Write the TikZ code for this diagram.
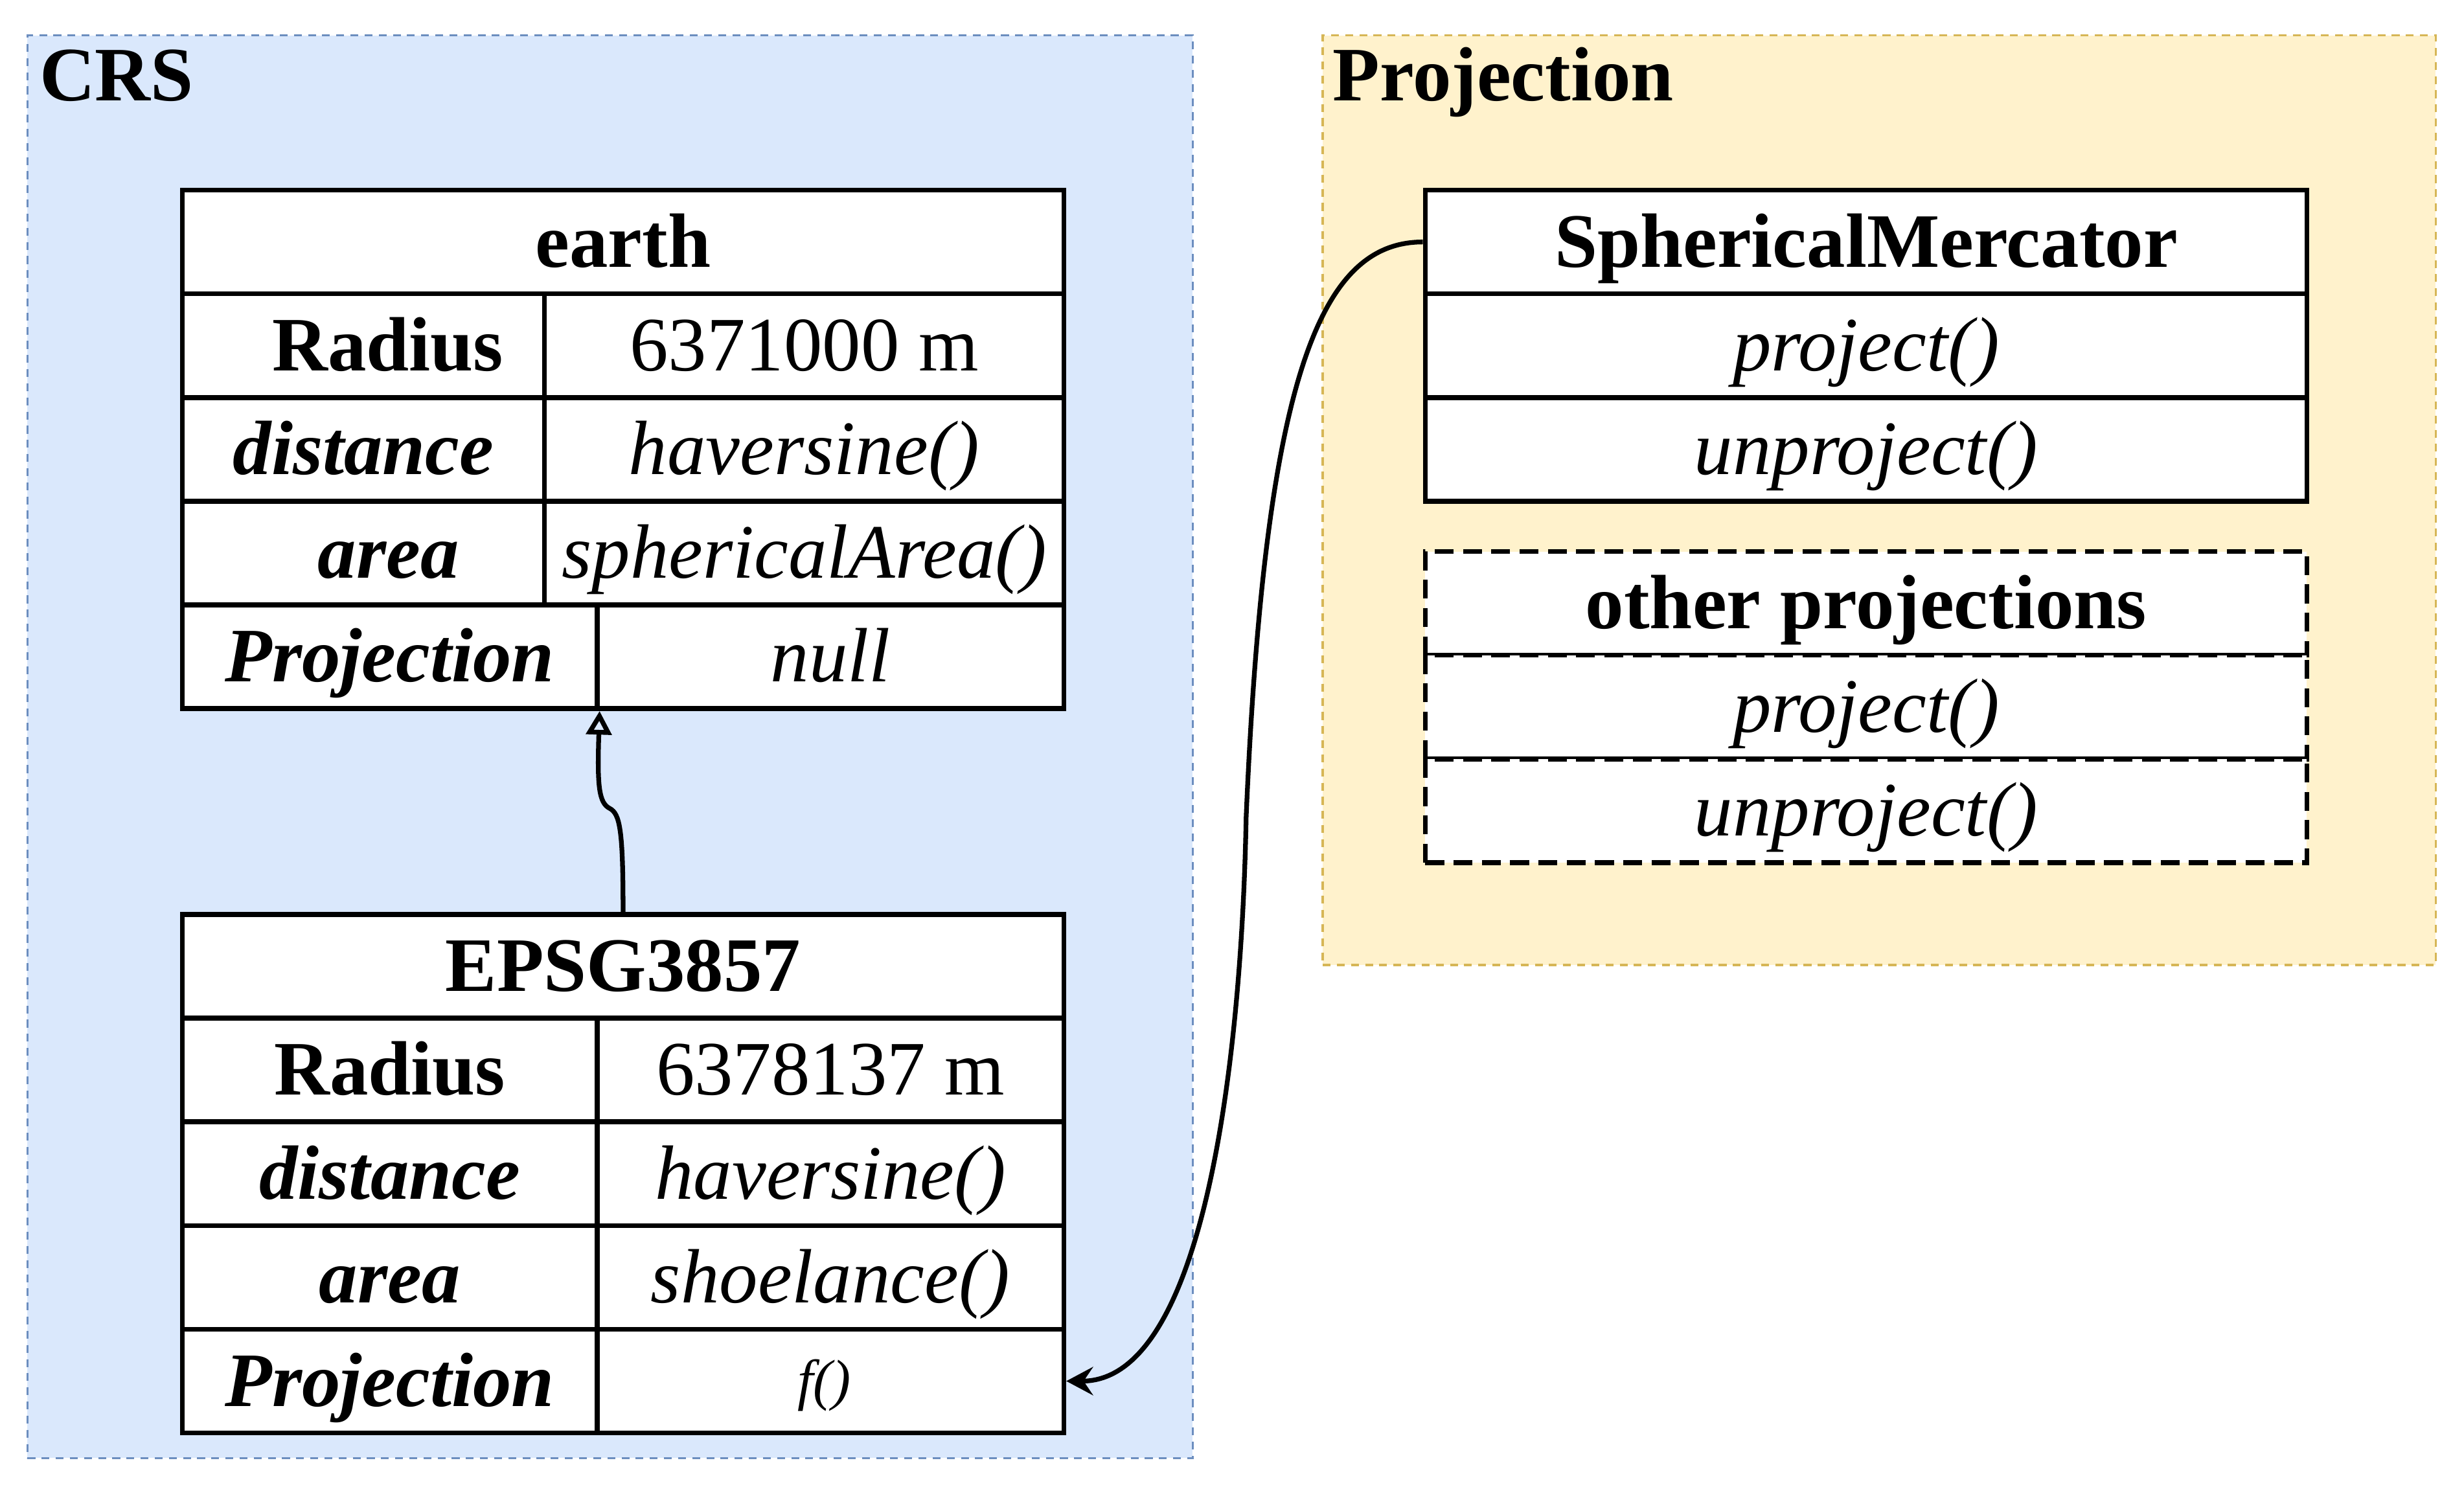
\documentclass[tikz,border=0pt]{standalone}
\usepackage{fontspec}
\setmainfont{Liberation Serif}
\usetikzlibrary{arrows.meta}
\definecolor{crsfill}{HTML}{DAE8FC}
\definecolor{crsdraw}{HTML}{6C8EBF}
\definecolor{prjfill}{HTML}{FFF2CC}
\definecolor{prjdraw}{HTML}{D6B656}
\begin{document}
\begin{tikzpicture}[x=1pt,y=-1pt,
  cell/.style={draw=black, line width=3.1pt, fill=white, minimum height=66pt, inner sep=0pt,
    text height=32pt, text depth=0pt, font=\fontsize{49}{58}\selectfont},
  dcell/.style={cell, dash pattern=on 12pt off 6pt},
  grp/.style={line width=1.5pt, dash pattern=on 5pt off 4pt, inner sep=0pt},
  grptitle/.style={anchor=base west, inner sep=0pt, font=\fontsize{49}{58}\selectfont\bfseries},
  conn/.style={line width=3pt, draw=black},
]
\useasboundingbox (0,0) rectangle (1568,946.4);
% group boxes
\node[grp, draw=crsdraw, fill=crsfill, minimum width=741.5pt, minimum height=905.5pt] (crs) at (388.25,475.25) {};
\node[grp, draw=prjdraw, fill=prjfill, minimum width=708.3pt, minimum height=591.7pt] (prj) at (1195.85,318.35) {};
\node[grptitle] (crsT) at (25,64) {CRS};
\node[grptitle] (prjT) at (848,64) {Projection};

% earth table
\node[cell, minimum width=561pt] (eH) at (396.5,154) {\bfseries earth};
\node[cell, minimum width=230.5pt] (eRl) at (231.25,220) {\bfseries\hspace*{31pt}Radius};
\node[cell, minimum width=330.5pt] (eRv) at (511.75,220) {6371000 m};
\node[cell, minimum width=230.5pt] (eDl) at (231.25,286) {\bfseries\itshape distance};
\node[cell, minimum width=330.5pt] (eDv) at (511.75,286) {\itshape haversine()};
\node[cell, minimum width=230.5pt] (eAl) at (231.25,352) {\bfseries\itshape\hspace*{32pt}area};
\node[cell, minimum width=330.5pt] (eAv) at (511.75,352) {\itshape sphericalArea()};
\node[cell, minimum width=264pt] (ePl) at (248,418) {\bfseries\itshape Projection};
\node[cell, minimum width=297pt] (ePv) at (528.5,418) {\itshape null};

% EPSG3857 table
\node[cell, minimum width=561pt] (gH) at (396.5,615) {\bfseries EPSG3857};
\node[cell, minimum width=264pt] (gRl) at (248,681) {\bfseries Radius};
\node[cell, minimum width=297pt] (gRv) at (528.5,681) {6378137 m};
\node[cell, minimum width=264pt] (gDl) at (248,747) {\bfseries\itshape distance};
\node[cell, minimum width=297pt] (gDv) at (528.5,747) {\itshape haversine()};
\node[cell, minimum width=264pt] (gAl) at (248,813) {\bfseries\itshape area};
\node[cell, minimum width=297pt] (gAv) at (528.5,813) {\itshape shoelance()};
\node[cell, minimum width=264pt] (gPl) at (248,879) {\bfseries\itshape Projection};
\node[cell, minimum width=297pt, text height=23pt, font=\fontsize{36}{43}\selectfont] (gPv) at (528.5,879) {\itshape f()\hspace*{8pt}};

% SphericalMercator
\node[cell, minimum width=561pt] (sH) at (1187.5,154) {\bfseries SphericalMercator};
\node[cell, minimum width=561pt] (sP) at (1187.5,220) {\itshape project()};
\node[cell, minimum width=561pt] (sU) at (1187.5,286) {\itshape unproject()};

% other projections
\node[dcell, minimum width=561pt] (oH) at (1187.5,384) {\bfseries other projections};
\node[dcell, minimum width=561pt] (oP) at (1187.5,450) {\itshape project()};
\node[dcell, minimum width=561pt] (oU) at (1187.5,516) {\itshape unproject()};

% connectors
\draw[conn, -{Triangle[open, length=15pt, width=16pt]}]
  (gH.north) .. controls (396.5,528) and (394.5,518) .. (388,514.5)
  .. controls (381,511) and (380,500) .. (ePl.south east);
\draw[conn, -{Stealth[length=17pt, width=18pt, inset=6pt]}]
  (sH.west) .. controls (840,154) and (805,240) .. (793,520)
  .. controls (790,680) and (765,879) .. (gPv.east);
\end{tikzpicture}
\end{document}
